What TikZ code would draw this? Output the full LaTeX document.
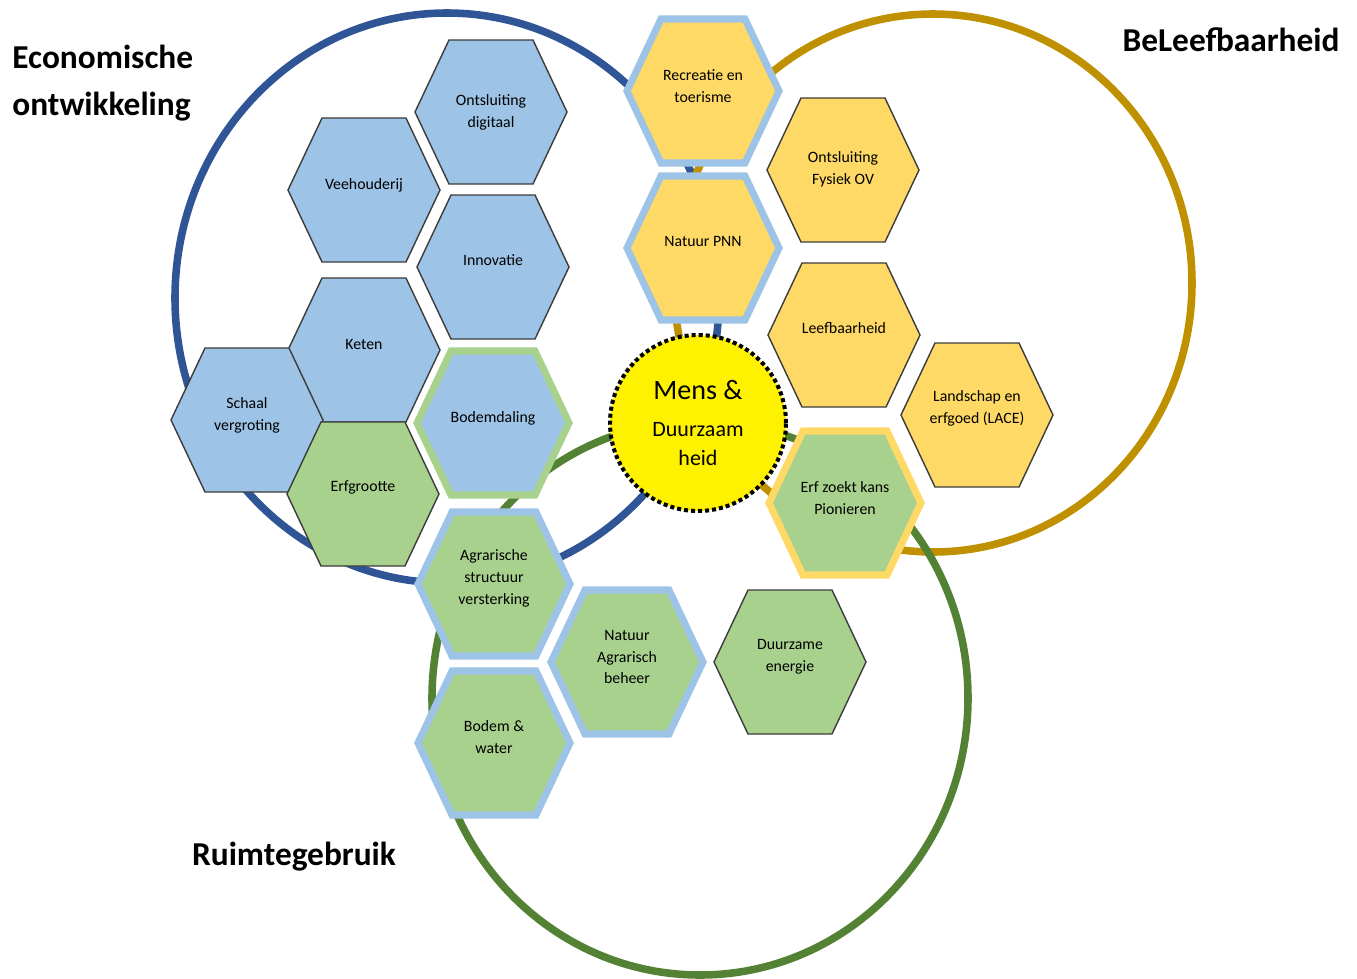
\documentclass[tikz,border=0pt]{standalone}
\usepackage{fontspec}
\setmainfont{Carlito}
\usepackage{tikz}
\definecolor{ecoblue}{RGB}{47,85,150}
\definecolor{leefgold}{RGB}{191,144,0}
\definecolor{ruimgreen}{RGB}{84,130,53}
\definecolor{hexblue}{RGB}{157,195,230}
\definecolor{hexyellow}{RGB}{255,217,102}
\definecolor{hexgreen}{RGB}{169,209,142}
\definecolor{hexline}{RGB}{60,60,60}
\tikzset{
  hexagon/.pic={
    \path[pic actions] (-76,0) -- (-42,-72) -- (42,-72) -- (76,0) -- (42,72) -- (-42,72) -- cycle;
  },
  blue hex/.style={fill=hexblue, draw=hexline, line width=0.8pt},
  yellow hex/.style={fill=hexyellow, draw=hexline, line width=0.8pt},
  green hex/.style={fill=hexgreen, draw=hexline, line width=0.8pt},
  thick rim/.style={draw=#1, line width=4pt},
  hex label/.style={align=center, inner sep=0pt, font=\fontsize{9}{12.5}\selectfont},
  title/.style={align=left, inner sep=0pt, font=\bfseries\fontsize{19}{26.7}\selectfont},
  domain ring/.style={line width=4.3pt},
  mens/.style={
    circle, fill=yellow, draw=black, line width=2.3pt, dash pattern=on 2.3pt off 1.7pt,
    minimum size=3.52cm, inner sep=0pt, align=center, font=\fontsize{12.5}{17}\selectfont
  }
}

\begin{document}
\begin{tikzpicture}[x=0.02cm, y=-0.02cm]
  \useasboundingbox (0,0) rectangle (1357,978);

  % the three domains
  \draw[domain ring, ecoblue] (447,298) ellipse [x radius=272, y radius=285];
  \draw[domain ring, leefgold] (933,283) ellipse [x radius=259, y radius=269];
  \draw[domain ring, ruimgreen] (700,698) ellipse [x radius=268, y radius=277];

  \node[title, anchor=west] (economie) at (12,83) {Economische\\ontwikkeling};
  \node[title] (beleving) at (1231,40) {BeLeefbaarheid};
  \node[title] (ruimte) at (294,857) {Ruimtegebruik};

  % economische ontwikkeling
  \pic[blue hex] at (491,112) {hexagon};
  \pic[blue hex] at (364,190) {hexagon};
  \pic[blue hex] at (493,267) {hexagon};
  \pic[blue hex] at (364,350) {hexagon};
  \pic[blue hex] at (247,420) {hexagon};
  \pic[green hex] at (363,494) {hexagon};
  \pic[blue hex, thick rim=hexgreen] at (493,423) {hexagon};

  \node[hex label] (digitaal) at (491,112) {Ontsluiting\\digitaal};
  \node[hex label] (veehouderij) at (364,185) {Veehouderij};
  \node[hex label] (innovatie) at (493,260) {Innovatie};
  \node[hex label] (keten) at (364,344) {Keten};
  \node[hex label] (schaal) at (247,415) {Schaal\\vergroting};
  \node[hex label] (erfgrootte) at (363,487) {Erfgrootte};
  \node[hex label] (bodemdaling) at (493,418) {Bodemdaling};

  % ruimtegebruik
  \pic[green hex, thick rim=hexblue] at (494,584) {hexagon};
  \pic[green hex, thick rim=hexblue] at (627,662) {hexagon};
  \pic[green hex, thick rim=hexblue] at (494,743) {hexagon};
  \pic[green hex] at (790,662) {hexagon};

  \node[hex label] (structuur) at (494,578) {Agrarische\\structuur\\versterking};
  \node[hex label] (natuurbeheer) at (627,657) {Natuur\\Agrarisch\\beheer};
  \node[hex label] (bodemwater) at (494,737) {Bodem \&\\water};
  \node[hex label] (energie) at (790,657) {Duurzame\\energie};

  % beleefbaarheid
  \pic[yellow hex, thick rim=hexblue] at (703,91) {hexagon};
  \pic[yellow hex, thick rim=hexblue] at (703,248) {hexagon};
  \pic[yellow hex] at (843,170) {hexagon};
  \pic[yellow hex] at (844,335) {hexagon};
  \pic[yellow hex] at (977,415) {hexagon};
  \pic[green hex, thick rim=hexyellow] at (845,503) {hexagon};

  \node[hex label] (recreatie) at (703,86) {Recreatie en\\toerisme};
  \node[hex label] (pnn) at (703,241) {Natuur PNN};
  \node[hex label] (fysiek) at (843,169) {Ontsluiting\\Fysiek OV};
  \node[hex label] (leefbaarheid) at (844,328) {Leefbaarheid};
  \node[hex label] (landschap) at (977,408) {Landschap en\\erfgoed (LACE)};
  \node[hex label] (erfkans) at (845,498) {Erf zoekt kans\\Pionieren};

  \node[mens] (kern) at (698,423) {{\fontsize{16}{21}\selectfont Mens \&}\\[4pt]Duurzaam\\heid};
\end{tikzpicture}
\end{document}
